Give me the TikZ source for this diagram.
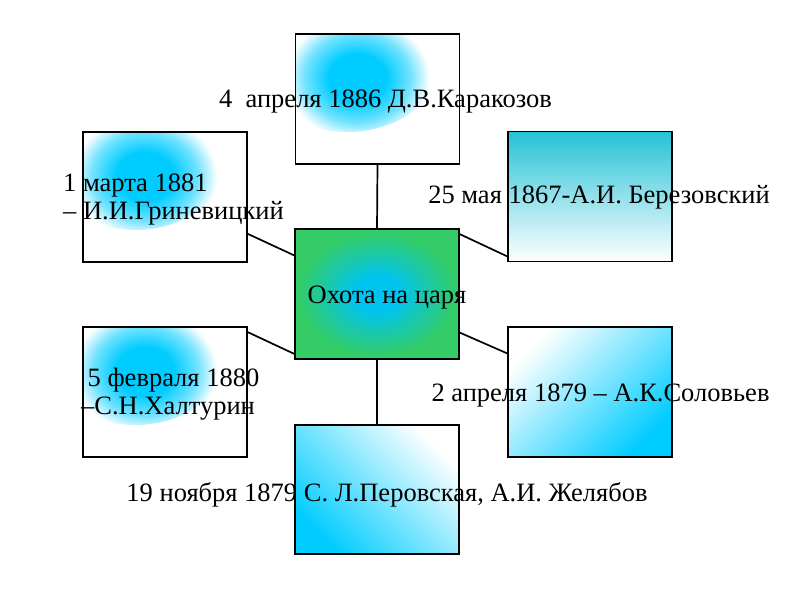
\documentclass[tikz,border=0pt]{standalone}
\usepackage{fontspec}
\setmainfont{Liberation Serif}
\usetikzlibrary{calc}
\definecolor{cy}{RGB}{0,204,255}
\definecolor{cyc}{RGB}{0,196,240}
\definecolor{grn}{RGB}{51,204,102}
\definecolor{teal1}{RGB}{38,194,214}
\pgfdeclareradialshading{blob}{\pgfpoint{0bp}{0bp}}{color(0bp)=(cy); color(7bp)=(cy); color(13bp)=(cy!55!white); color(17.7bp)=(white); color(50bp)=(white)}
\pgfdeclareradialshading{centre}{\pgfpoint{0bp}{0bp}}{color(0bp)=(cyc); color(5bp)=(cyc); color(11bp)=(cyc!50!grn); color(17.7bp)=(grn); color(50bp)=(grn)}
\tikzset{
  box/.style={rectangle, draw=black, line width=1.1pt, minimum width=164pt, minimum height=130pt, inner sep=0pt},
  blobbox/.style={box, fill=white, path picture={\shade[shading=blob] ($(path picture bounding box.north west)+(52,28)$) ellipse [x radius=92, y radius=70];}},
  centrebox/.style={box, fill=grn, path picture={\shade[shading=centre] (path picture bounding box.center) ellipse [x radius=112, y radius=88];}},
  lbl/.style={inner sep=0pt, anchor=base, font=\fontsize{26.5}{31}\selectfont},
  lblw/.style={lbl, anchor=base west},
  link/.style={line width=1.7pt, black}
}
\begin{document}
\begin{tikzpicture}[x=1pt,y=-1pt]
\fill[white] (0,0) rectangle (800,600);
\useasboundingbox (0,0) rectangle (800,600);
% boxes
\node[blobbox] (top) at (377.5,99) {};
\node[blobbox] (lt) at (165,197) {};
\node[blobbox] (lb) at (165,392) {};
\node[centrebox] (ce) at (377,294) {};
\node[box, top color=teal1, bottom color=white] (rt) at (590,196.5) {};
\node[box, left color=white, right color=cy, shading angle=45] (rb) at (590,392) {};
\node[box, left color=white, right color=cy, shading angle=-45, minimum height=129pt] (bot) at (377,489.5) {};
% connectors
\draw[link] (top.south) -- (ce.north);
\draw[link] (ce.south) -- (bot.north);
\draw[link] (lt.-24) -- (ce.155);
\draw[link] (ce.36) -- (rt.216);
\draw[link] (lb.36) -- (ce.216);
\draw[link] (ce.-25) -- (rb.155);
% labels
\node[lbl] (t1) at (385.5,107) {4\ \ апреля 1886 Д.В.Каракозов};
\node[lblw] (t2a) at (63,191) {1 марта 1881};
\node[lblw] (t2b) at (63,219) {– И.И.Гриневицкий};
\node[lbl] (t3) at (599,203) {25 мая 1867-А.И. Березовский};
\node[lbl] (t4) at (387,303) {Охота на царя};
\node[lbl] (t5a) at (173.5,386) {5 февраля 1880};
\node[lbl] (t5b) at (168,414) {–С.Н.Халтурин};
\node[lbl] (t6) at (600.5,401) {2 апреля 1879 – А.К.Соловьев};
\node[lbl] (t7) at (387,501) {19 ноября 1879 С. Л.Перовская, А.И. Желябов};
\end{tikzpicture}
\end{document}
